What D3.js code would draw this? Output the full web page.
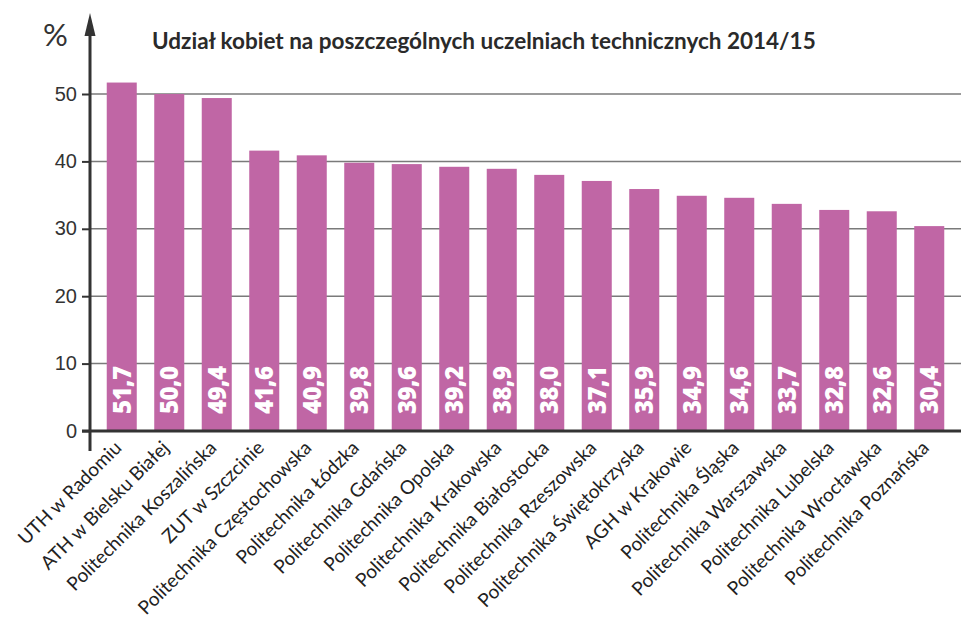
<!DOCTYPE html>
<html>
<head>
<meta charset="utf-8">
<script src="https://cdn.jsdelivr.net/npm/d3@7"></script>
<style>
  body { margin: 0; background: #fff; }
  svg { font-family: Lato, "Open Sans", sans-serif; }
</style>
</head>
<body>
<div id="plot"></div>
<script>
const universities = [
    'UTH w Radomiu', 'ATH w Bielsku Białej', 'Politechnika Koszalińska', 'ZUT w Szczcinie',
    'Politechnika Częstochowska', 'Politechnika Łódzka', 'Politechnika Gdańska', 'Politechnika Opolska',
    'Politechnika Krakowska', 'Politechnika Białostocka', 'Politechnika Rzeszowska',
    'Politechnika Świętokrzyska', 'AGH w Krakowie', 'Politechnika Śląska', 'Politechnika Warszawska',
    'Politechnika Lubelska', 'Politechnika Wrocławska', 'Politechnika Poznańska'
];
const shares = [51.7, 50.0, 49.4, 41.6, 40.9, 39.8, 39.6, 39.2, 38.9, 38.0, 37.1, 35.9, 34.9, 34.6, 33.7, 32.8, 32.6, 30.4];
const yTicks = [0, 10, 20, 30, 40, 50];
const title = 'Udział kobiet na poszczególnych uczelniach technicznych 2014/15';

const width = 961, height = 619;
const axisX = 90, zeroY = 431;

const svg = d3.select("#plot")
    .append("svg")
    .attr("width", width)
    .attr("height", height);

const x = d3.scaleBand()
    .domain(universities)
    .range([98, 953])
    .paddingInner(0.368)
    .paddingOuter(0.184);

const y = d3.scaleLinear()
    .domain([0, 50])
    .range([zeroY, 94]);

// gridlines
svg.append("g")
    .selectAll("line")
    .data(yTicks.filter(d => d > 0))
    .join("line")
    .attr("x1", axisX)
    .attr("x2", width)
    .attr("y1", d => y(d))
    .attr("y2", d => y(d))
    .attr("stroke", "#7a7a7a")
    .attr("stroke-width", 1.5);

// bars
svg.append("g")
    .selectAll("rect")
    .data(shares)
    .join("rect")
    .attr("x", (d, i) => x(universities[i]))
    .attr("width", x.bandwidth())
    .attr("y", d => y(d))
    .attr("height", d => zeroY - y(d))
    .attr("fill", "#c066a5");

// value labels inside bars
svg.append("g")
    .selectAll("text")
    .data(shares)
    .join("text")
    .attr("transform", (d, i) => `translate(${x(universities[i]) + x.bandwidth() / 2 + 9},414) rotate(-90)`)
    .attr("fill", "#fff")
    .attr("font-family", "'Open Sans', sans-serif")
    .attr("font-weight", 800)
    .attr("font-size", 24)
    .attr("letter-spacing", -0.5)
    .text(d => d.toFixed(1).replace('.', ','));

// y axis
const yAxis = d3.axisLeft(y)
    .tickValues(yTicks)
    .tickSize(8)
    .tickPadding(5)
    .tickFormat(d3.format("d"));

const gy = svg.append("g")
    .attr("transform", `translate(${axisX},0)`)
    .call(yAxis);
gy.select(".domain").remove();
gy.selectAll(".tick line").attr("stroke", "#333").attr("stroke-width", 2);
gy.selectAll(".tick text")
    .attr("font-size", 20)
    .attr("fill", "#333")
    .attr("dy", "0.3em");

// baseline and vertical axis
svg.append("line")
    .attr("x1", axisX - 8).attr("x2", width)
    .attr("y1", zeroY).attr("y2", zeroY)
    .attr("stroke", "#333").attr("stroke-width", 3);
svg.append("line")
    .attr("x1", axisX).attr("x2", axisX)
    .attr("y1", 30).attr("y2", zeroY + 20)
    .attr("stroke", "#333").attr("stroke-width", 3);
svg.append("path")
    .attr("d", `M${axisX},13 L${axisX - 5.5},36 L${axisX + 5.5},36 Z`)
    .attr("fill", "#333");

svg.append("text")
    .attr("x", 43).attr("y", 46)
    .attr("font-size", 31)
    .attr("fill", "#333")
    .text("%");

svg.append("text")
    .attr("x", 152).attr("y", 49)
    .attr("font-size", 22.5)
    .attr("font-weight", "bold")
    .attr("fill", "#2a2a2a")
    .text(title);

// category labels
svg.append("g")
    .selectAll("text")
    .data(universities)
    .join("text")
    .attr("transform", d => `translate(${x(d) + x.bandwidth() / 2 + 1},449) rotate(-45)`)
    .attr("text-anchor", "end")
    .attr("font-size", 19)
    .attr("fill", "#222")
    .text(d => d);
</script>
</body>
</html>
